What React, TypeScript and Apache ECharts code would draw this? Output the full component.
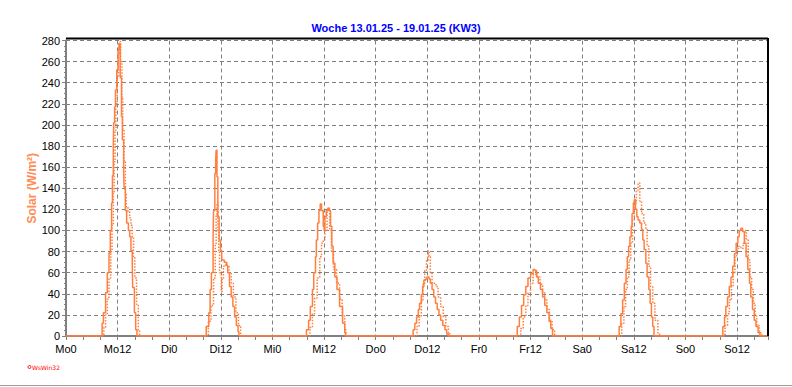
import React, { useEffect, useRef } from 'react';
import * as echarts from 'echarts';

const chartTitle = 'Woche 13.01.25 - 19.01.25 (KW3)';
const yAxisName = 'Solar (W/m²)';
const dayNames = ['Mo', 'Di', 'Mi', 'Do', 'Fr', 'Sa', 'So'];
const xHourMin = 0;
const xHourMax = 163.2;
const xLabelStep = 12;
const yMin = 0;
const yMax = 280;
const yStep = 20;
const footerText = 'WsWin32';

// [hour since Mo 0:00, W/m²] - solid line
const solidPoints: [number, number][] = [
  [0, 0],
  [8.0, 0], [8.4, 12], [8.7, 22], [9.2, 41], [9.6, 60], [10.0, 79], [10.3, 100], [10.6, 126], [10.8, 152],
  [11.0, 181], [11.1, 202], [11.3, 217], [11.5, 233], [11.8, 252], [12.1, 271], [12.3, 277], [12.6, 245],
  [12.9, 208], [13.1, 186], [13.4, 157], [13.5, 141], [13.8, 119], [14.1, 107], [14.5, 100], [14.8, 94],
  [15.1, 81], [15.4, 69], [15.5, 46], [15.9, 22], [16.2, 6], [16.5, 0],
  [32.0, 0], [32.6, 9], [33.2, 22], [33.5, 44], [33.8, 60], [34.2, 91], [34.3, 119], [34.6, 154], [34.8, 167],
  [34.9, 176], [35.1, 151], [35.3, 113], [35.6, 91], [35.9, 81], [36.2, 74], [36.3, 72], [36.8, 70], [37.3, 67],
  [37.6, 60], [38.0, 47], [38.4, 37], [38.8, 28], [39.2, 18], [39.6, 10], [40.0, 4], [40.2, 0],
  [55.3, 0], [55.9, 6], [56.4, 15], [56.8, 28], [57.3, 44], [57.6, 60], [58.0, 75], [58.2, 91], [58.5, 107],
  [58.8, 119], [59.1, 125], [59.4, 119], [59.8, 104], [60.0, 100], [60.2, 113], [60.5, 119], [60.8, 121],
  [61.2, 119], [61.5, 104], [61.8, 85], [62.1, 69], [62.5, 56], [63.0, 44], [63.6, 28], [64.3, 12], [64.8, 3], [65.0, 0],
  [80.3, 0], [80.7, 6], [81.1, 12], [81.5, 18], [81.9, 25], [82.2, 31], [82.6, 39], [82.9, 47], [83.2, 53],
  [83.6, 54], [83.9, 56], [84.4, 54], [84.7, 50], [85.1, 44], [85.5, 37], [85.9, 31], [86.3, 25], [86.7, 20],
  [87.1, 15], [87.6, 10], [88.1, 6], [88.5, 2], [88.9, 0],
  [104.4, 0], [104.9, 9], [105.4, 18], [105.9, 29], [106.4, 39], [106.9, 47], [107.4, 55], [108.0, 59],
  [108.6, 63], [109.0, 62], [109.4, 56], [109.8, 50], [110.3, 44], [110.8, 37], [111.3, 29], [111.8, 22],
  [112.3, 14], [112.7, 7], [113.1, 0],
  [128.2, 0], [128.6, 9], [129.0, 21], [129.4, 34], [129.8, 50], [130.2, 63], [130.5, 75], [130.8, 85],
  [131.1, 94], [131.4, 104], [131.6, 116], [131.9, 126], [132.1, 129], [132.4, 120], [132.7, 113], [133.0, 110],
  [133.4, 107], [133.8, 101], [134.1, 91], [134.4, 82], [134.8, 69], [135.1, 56], [135.5, 44], [135.8, 31],
  [136.1, 18], [136.4, 9], [136.7, 0],
  [152.2, 0], [152.7, 9], [153.1, 18], [153.4, 28], [153.8, 37], [154.2, 47], [154.6, 56], [155.0, 66],
  [155.4, 78], [155.8, 88], [156.2, 94], [156.5, 100], [156.9, 102], [157.3, 99], [157.7, 88], [158.1, 75],
  [158.5, 63], [158.9, 50], [159.2, 37], [159.6, 25], [160.0, 15], [160.4, 9], [160.9, 3], [161.3, 0],
  [163.2, 0],
];

// [hour since Mo 0:00, W/m²] - dotted line
const dottedPoints: [number, number][] = [
  [0, 0],
  [8.4, 0], [8.8, 8], [9.2, 20], [9.6, 35], [10.0, 55], [10.4, 80], [10.7, 105], [11.0, 135], [11.2, 165],
  [11.4, 195], [11.6, 220], [11.9, 245], [12.2, 268], [12.4, 279], [12.7, 260], [13.0, 225], [13.2, 196],
  [13.5, 165], [13.8, 135], [14.0, 122], [14.4, 118], [14.8, 112], [15.1, 105], [15.4, 94], [15.7, 75],
  [16.0, 55], [16.4, 30], [16.8, 5], [17.1, 0],
  [32.6, 0], [33.1, 14], [33.7, 29], [34.3, 55], [34.7, 87], [34.9, 115], [35.1, 126], [35.3, 100], [35.5, 81],
  [35.7, 60], [36.1, 42], [36.3, 54], [36.6, 66], [37.1, 69], [37.5, 66], [37.9, 60], [38.4, 50], [38.9, 37],
  [39.5, 22], [40.1, 10], [40.6, 0],
  [55.9, 0], [56.7, 8], [57.3, 21], [57.8, 36], [58.4, 55], [59.0, 75], [59.4, 88], [59.8, 91], [60.2, 100],
  [60.7, 119], [61.0, 121], [61.3, 100], [61.7, 80], [62.2, 63], [62.9, 50], [63.6, 35], [64.2, 19], [64.8, 6], [65.1, 0],
  [81.1, 0], [81.6, 9], [82.1, 18], [82.6, 33], [83.0, 50], [83.4, 62], [83.8, 72], [84.2, 81], [84.4, 75],
  [84.7, 60], [85.1, 50], [85.6, 50], [86.0, 47], [86.5, 37], [87.1, 28], [87.7, 18], [88.3, 9], [88.9, 3], [89.2, 0],
  [105.2, 0], [105.7, 7], [106.3, 18], [106.9, 29], [107.4, 41], [108.0, 50], [108.6, 58], [109.2, 61],
  [109.6, 56], [110.2, 49], [110.8, 41], [111.3, 34], [111.8, 25], [112.4, 15], [113.0, 6], [113.6, 0],
  [128.6, 0], [129.2, 12], [129.7, 28], [130.1, 44], [130.5, 56], [130.9, 72], [131.3, 88], [131.7, 110],
  [132.1, 126], [132.6, 138], [133.0, 145], [133.4, 128], [133.8, 116], [134.3, 107], [134.8, 101], [135.1, 85],
  [135.5, 66], [135.9, 47], [136.4, 31], [136.9, 15], [137.6, 3], [138.0, 0],
  [152.7, 0], [153.2, 10], [153.8, 21], [154.2, 34], [154.7, 47], [155.1, 60], [155.5, 75], [155.9, 83],
  [156.4, 85], [156.9, 83], [157.4, 88], [157.8, 100], [158.2, 91], [158.6, 72], [159.0, 56], [159.4, 44],
  [159.8, 31], [160.2, 19], [160.6, 10], [161.2, 3], [161.7, 0], [163.2, 0],
];

const FONT = '"Liberation Sans", Arial, sans-serif';
const ORANGE = '#ff7f3f';
const GRAY = '#808080';

export default function App() {
  const ref = useRef<HTMLDivElement>(null);
  useEffect(() => {
    document.body.style.margin = '0';
    document.body.style.background = '#ffffff';
    if (!ref.current) return;
    const chart = echarts.init(ref.current, undefined, { renderer: 'svg' });
    chart.setOption({
      animation: false,
      backgroundColor: '#ffffff',
      title: {
        text: chartTitle,
        left: 'center',
        top: 17,
        textStyle: { fontFamily: FONT, fontSize: 11, fontWeight: 'bold', color: '#0000ff' },
      },
      grid: { left: 66, right: 24, top: 40.5, bottom: 51, containLabel: false },
      xAxis: {
        type: 'value',
        min: xHourMin,
        max: xHourMax,
        interval: xLabelStep,
        axisLine: { show: true, onZero: false, lineStyle: { color: GRAY, width: 2 } },
        axisTick: { show: true, length: 4, lineStyle: { color: GRAY, width: 1 } },
        minorTick: { show: true, splitNumber: 3, length: 4, lineStyle: { color: GRAY, width: 1 } },
        axisLabel: {
          margin: 7,
          fontFamily: FONT,
          fontSize: 11,
          color: '#000000',
          showMaxLabel: false,
          formatter: (v: number) => {
            if (Math.abs(v / xLabelStep - Math.round(v / xLabelStep)) > 1e-6) return '';
            const d = Math.floor(Math.round(v) / 24);
            return (dayNames[d] ?? '') + (Math.round(v) % 24);
          },
        },
        splitLine: { show: true, lineStyle: { color: GRAY, width: 1, type: [4, 3] } },
      },
      yAxis: {
        type: 'value',
        min: yMin,
        max: yMax,
        interval: yStep,
        name: yAxisName,
        nameLocation: 'middle',
        nameGap: 28,
        nameMoveOverlap: false,
        nameTextStyle: { fontFamily: FONT, fontSize: 12, fontWeight: 'bold', color: '#ff8c55' },
        axisLine: { show: true, lineStyle: { color: GRAY, width: 2 } },
        axisTick: { show: true, length: 4, lineStyle: { color: GRAY, width: 1 } },
        minorTick: { show: true, splitNumber: 4, length: 2, lineStyle: { color: GRAY, width: 1 } },
        axisLabel: { margin: 6, fontFamily: FONT, fontSize: 11, color: '#000000' },
        splitLine: { show: true, lineStyle: { color: GRAY, width: 1, type: [4, 3] } },
      },
      series: [
        {
          type: 'line',
          data: dottedPoints,
          step: 'end',
          symbol: 'none',
          lineStyle: { color: ORANGE, width: 1.5, type: [1.5, 1.5] },
          z: 3,
        },
        {
          type: 'line',
          data: solidPoints,
          step: 'end',
          symbol: 'none',
          lineStyle: { color: ORANGE, width: 1.5 },
          z: 4,
        },
      ],
      graphic: [
        { type: 'line', shape: { x1: 66, y1: 38.5, x2: 768, y2: 38.5 }, style: { stroke: '#000000', lineWidth: 2 }, z: 10 },
        { type: 'line', shape: { x1: 768, y1: 38, x2: 768, y2: 336 }, style: { stroke: '#000000', lineWidth: 2 }, z: 10 },
        { type: 'line', shape: { x1: 0, y1: 385.5, x2: 792, y2: 385.5 }, style: { stroke: '#a0a0a0', lineWidth: 1 } },
        { type: 'circle', shape: { cx: 29.5, cy: 367, r: 1.5 }, style: { stroke: '#ff0000', fill: 'none', lineWidth: 1 } },
        {
          type: 'text',
          x: 32,
          y: 367,
          style: { text: footerText, font: '6px "DejaVu Sans", sans-serif', fill: '#ff0000', textVerticalAlign: 'middle' },
        },
      ],
    });
    return () => chart.dispose();
  }, []);
  return <div ref={ref} style={{ width: 792, height: 387 }} />;
}
